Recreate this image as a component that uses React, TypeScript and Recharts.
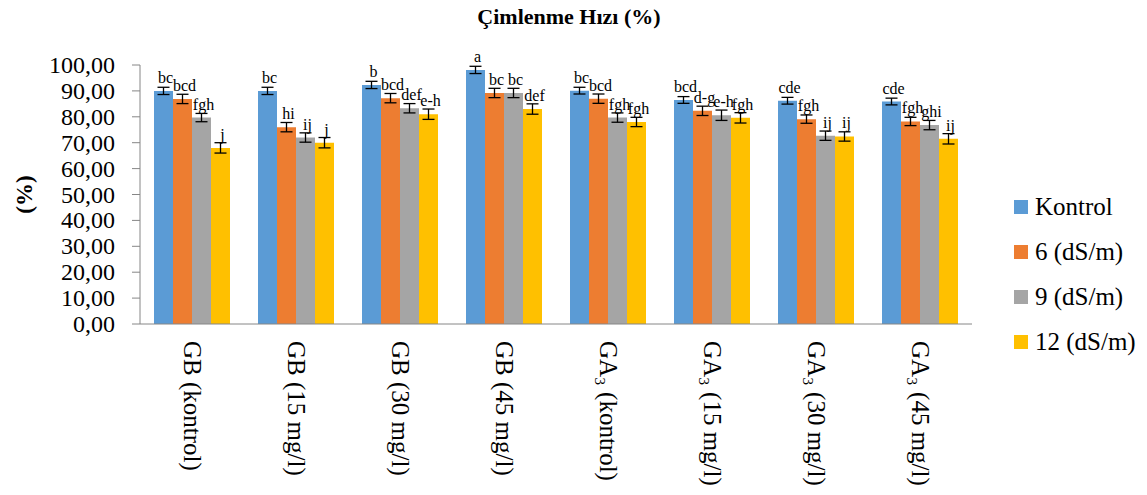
import React from 'react';
import { BarChart, Bar, XAxis, YAxis, ErrorBar, LabelList } from 'recharts';

const categories = [
    'GB (kontrol)', 'GB (15 mg/l)', 'GB (30 mg/l)', 'GB (45 mg/l)',
    'GA₃ (kontrol)', 'GA₃ (15 mg/l)', 'GA₃ (30 mg/l)', 'GA₃ (45 mg/l)'
];

const kontrol = [90.0, 90.0, 92.3, 98.1, 90.1, 86.5, 86.2, 85.9];
const ds6 = [86.9, 76.0, 87.2, 89.2, 87.0, 82.3, 79.1, 78.2];
const ds9 = [79.7, 72.0, 83.3, 89.2, 79.7, 80.6, 72.7, 76.8];
const ds12 = [68.0, 70.0, 81.0, 83.0, 78.0, 79.6, 72.4, 71.5];

const kontrolErr = [1.4, 1.4, 1.4, 1.4, 1.3, 1.3, 1.3, 1.3];
const ds6Err = [1.8, 1.8, 1.8, 1.8, 1.8, 1.8, 1.6, 1.6];
const ds9Err = [1.6, 1.8, 1.8, 1.8, 1.8, 2.0, 1.8, 1.8];
const ds12Err = [2.0, 2.0, 2.0, 2.0, 1.8, 2.0, 1.8, 2.0];

const kontrolLetters = ['bc', 'bc', 'b', 'a', 'bc', 'bcd', 'cde', 'cde'];
const ds6Letters = ['bcd', 'hi', 'bcd', 'bc', 'bcd', 'd-g', 'fgh', 'fgh'];
const ds9Letters = ['fgh', 'ij', 'def', 'bc', 'fgh', 'e-h', 'ij', 'ghi'];
const ds12Letters = ['j', 'j', 'e-h', 'def', 'fgh', 'fgh', 'ij', 'ij'];

const yTicks = [0, 10, 20, 30, 40, 50, 60, 70, 80, 90, 100];

const series = [
    { key: 'kontrol', name: 'Kontrol', color: '#5B9BD5' },
    { key: 'ds6', name: '6 (dS/m)', color: '#ED7D31' },
    { key: 'ds9', name: '9 (dS/m)', color: '#A5A5A5' },
    { key: 'ds12', name: '12 (dS/m)', color: '#FFC000' },
];

const data = categories.map((c, i) => ({
    name: c,
    kontrol: kontrol[i], kontrolErr: kontrolErr[i], kontrolLbl: kontrolLetters[i],
    ds6: ds6[i], ds6Err: ds6Err[i], ds6Lbl: ds6Letters[i],
    ds9: ds9[i], ds9Err: ds9Err[i], ds9Lbl: ds9Letters[i],
    ds12: ds12[i], ds12Err: ds12Err[i], ds12Lbl: ds12Letters[i],
}));

const FONT = '"Liberation Serif", "DejaVu Serif", serif';

const CategoryTick = (props: any) => {
    const { x, y, payload } = props;
    return (
        <text
            x={0}
            y={0}
            transform={`translate(${x},${y + 9}) rotate(90)`}
            textAnchor="start"
            dominantBaseline="central"
            style={{ fontFamily: FONT, fontSize: 25 }}
            fill="#000"
        >
            {payload.value}
        </text>
    );
};

const ValueTick = (props: any) => {
    const { x, y, payload } = props;
    return (
        <text
            x={x - 15}
            y={y}
            textAnchor="end"
            dominantBaseline="central"
            style={{ fontFamily: FONT, fontSize: 24 }}
            fill="#000"
        >
            {payload.value.toFixed(2).replace('.', ',')}
        </text>
    );
};

const letterLabel = (props: any) => {
    const { x, y, width, value } = props;
    return (
        <text
            x={x + width / 2 + 2}
            y={y - 8}
            textAnchor="middle"
            style={{ fontFamily: FONT, fontSize: 16 }}
            fill="#000"
        >
            {value}
        </text>
    );
};

export default function App() {
    return (
        <div style={{ position: 'absolute', left: 0, top: 0, width: 1147, height: 495, background: '#fff', fontFamily: FONT }}>
            <div style={{ position: 'absolute', left: 0, width: 1147, top: 4, textAlign: 'center', fontWeight: 'bold', fontSize: 22, paddingRight: 9, boxSizing: 'border-box' }}>
                Çimlenme Hızı (%)
            </div>
            <BarChart
                width={1147}
                height={495}
                data={data}
                margin={{ top: 65, right: 175, left: 0, bottom: 0 }}
                barGap={0}
                barCategoryGap={14}
                style={{ fontFamily: FONT }}
            >
                <XAxis
                    dataKey="name"
                    height={171}
                    interval={0}
                    tickLine={false}
                    stroke="#868686"
                    tick={<CategoryTick />}
                />
                <YAxis
                    width={140}
                    domain={[0, 100]}
                    ticks={yTicks}
                    interval={0}
                    stroke="#868686"
                    tickSize={8}
                    tick={<ValueTick />}
                    label={{
                        value: '(%)',
                        angle: -90,
                        position: 'insideLeft',
                        offset: 24,
                        style: { fontFamily: FONT, fontSize: 23, fontWeight: 'bold', fill: '#000', textAnchor: 'middle' },
                    }}
                />
                {series.map((s) => (
                    <Bar key={s.key} dataKey={s.key} name={s.name} fill={s.color} isAnimationActive={false}>
                        <ErrorBar dataKey={`${s.key}Err`} width={6} stroke="#000" strokeWidth={1.3} direction="y" />
                        <LabelList dataKey={`${s.key}Lbl`} content={letterLabel} />
                    </Bar>
                ))}
            </BarChart>
            <div style={{ position: 'absolute', left: 1014, top: 184 }}>
                {series.map((s) => (
                    <div key={s.key} style={{ display: 'flex', alignItems: 'center', height: 45, fontSize: 25 }}>
                        <span style={{ width: 14, height: 14, background: s.color, marginRight: 7, display: 'inline-block' }} />
                        <span>{s.name}</span>
                    </div>
                ))}
            </div>
        </div>
    );
}
